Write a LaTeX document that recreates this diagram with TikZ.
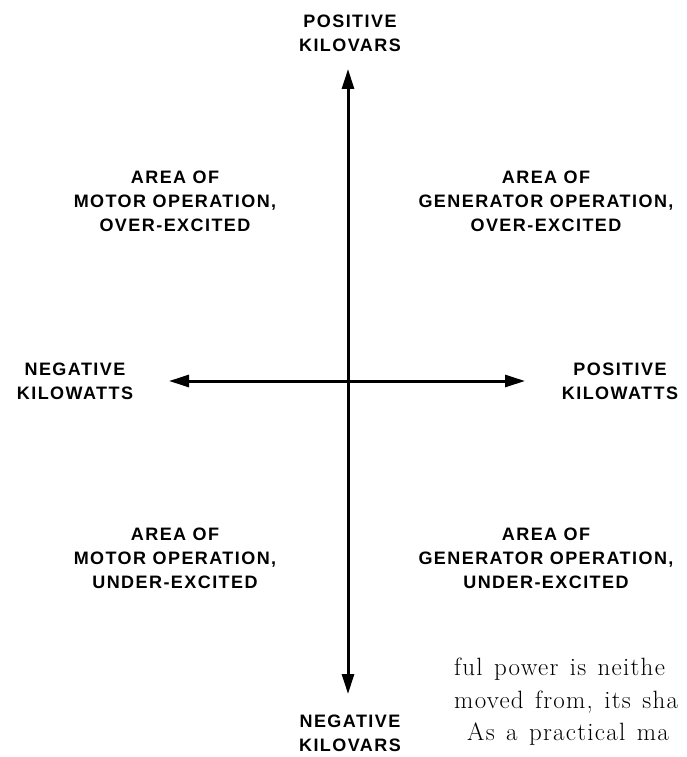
\documentclass[tikz,border=0pt]{standalone}
\usepackage{fontspec}
\usepackage{tikz}
\usetikzlibrary{arrows.meta, positioning}

\newfontfamily\labelfont{Liberation Sans}[LetterSpace=8]
\newfontfamily\bodyfont{Latin Modern Roman}[LetterSpace=5, WordSpace=1.3]

\begin{document}
\begin{tikzpicture}[
        >={Triangle[length=20pt,width=12pt]},
        every node/.style={inner sep=0pt},
        axis/.style={<->, line width=3pt},
        quadlabel/.style={align=center, font=\labelfont\bfseries\fontsize{18}{24}\selectfont},
        booktext/.style={anchor=base west, font=\bodyfont\fontsize{25}{32}\selectfont},
        yscale=-1,
        x=1pt,
        y=1pt
    ]
    \useasboundingbox (0,0) rectangle (686,757);

    \coordinate (top) at (348,69);
    \coordinate (bot) at (348,694);
    \coordinate (west) at (169,381);
    \coordinate (east) at (525,381);

    \draw[axis] (bot) -- (top);
    \draw[axis] (west) -- (east);

    \node[quadlabel] (posvar) at (350,33) {POSITIVE\\KILOVARS};
    \node[quadlabel] (negvar) at (350,733) {NEGATIVE\\KILOVARS};
    \node[quadlabel] (negwatt) at (75,381) {NEGATIVE\\KILOWATTS};
    \node[quadlabel] (poswatt) at (620,381) {POSITIVE\\KILOWATTS};

    \node[quadlabel] (motorover) at (175,201) {AREA OF\\MOTOR OPERATION,\\OVER-EXCITED};
    \node[quadlabel] (genover) at (546,201) {AREA OF\\GENERATOR OPERATION,\\OVER-EXCITED};
    \node[quadlabel] (motorunder) at (175,558) {AREA OF\\MOTOR OPERATION,\\UNDER-EXCITED};
    \node[quadlabel] (genunder) at (546,558) {AREA OF\\GENERATOR OPERATION,\\UNDER-EXCITED};

    % page text cut off at the edge
    \node[booktext] (line1) at (454,675) {ful power is neithe};
    \node[booktext] (line2) at (454,708) {moved from, its sha};
    \node[booktext] (line3) at (467,740) {As a practical ma};
\end{tikzpicture}
\end{document}
